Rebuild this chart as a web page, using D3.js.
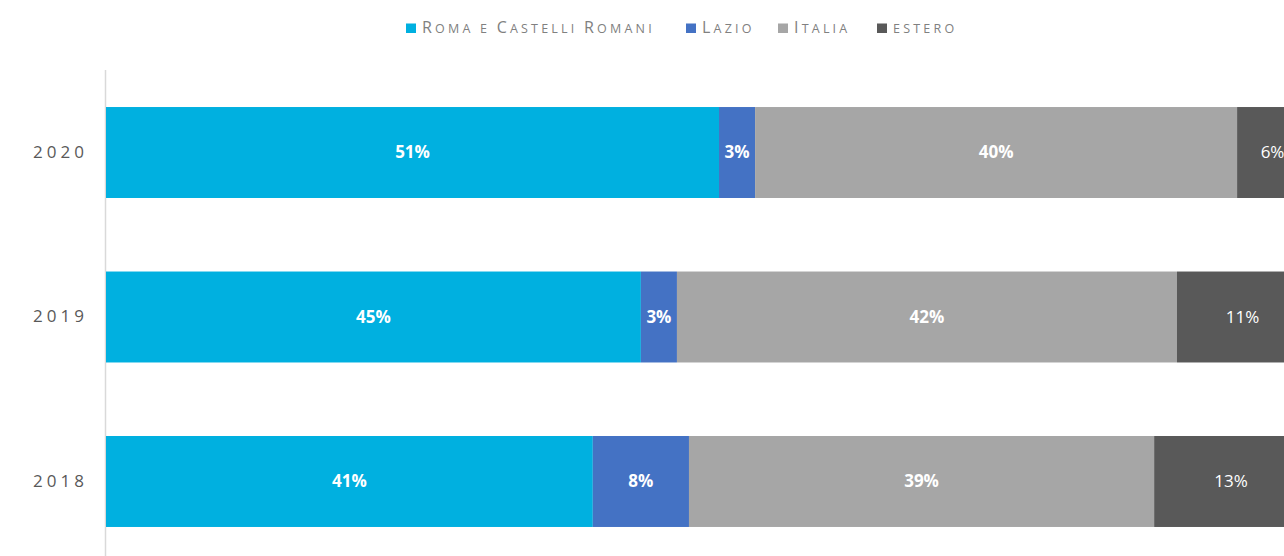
<!DOCTYPE html>
<html>
<head>
<meta charset="utf-8">
<script src="https://cdn.jsdelivr.net/npm/d3@7"></script>
<style>
	html, body { margin: 0; padding: 0; background: #fff; overflow: hidden; }
	text { font-family: "Open Sans", "Noto Sans", sans-serif; }
</style>
</head>
<body>
<div id="chart"></div>
<script>
const years = ["2020", "2019", "2018"];
const series = ["Roma e Castelli Romani", "Lazio", "Italia", "estero"];
const colors = ["#00b0e0", "#4472c4", "#a6a6a6", "#595959"];
const romaValues = [51.0, 44.5, 40.5];
const lazioValues = [3.0, 3.0, 8.0];
const italiaValues = [40.1, 41.6, 38.7];
const esteroValues = [5.9, 10.9, 12.8];

const width = 1284, height = 556;

const svg = d3.select("#chart")
	.append("svg")
	.attr("width", width)
	.attr("height", height);

const x = d3.scaleLinear().domain([0, 100]).range([106, 1308]);
const y = d3.scaleBand().domain(years).range([33.5, 600.5]).paddingInner(0.447).paddingOuter(0.447);

const table = years.map((yr, i) => ({
	year: yr,
	"Roma e Castelli Romani": romaValues[i],
	Lazio: lazioValues[i],
	Italia: italiaValues[i],
	estero: esteroValues[i],
}));

const stacked = d3.stack().keys(series)(table);

// axis line on the left
svg.append("line")
	.attr("x1", 105.5).attr("x2", 105.5)
	.attr("y1", 70).attr("y2", height)
	.attr("stroke", "#d9d9d9")
	.attr("stroke-width", 1.5);

const layers = svg.append("g")
	.selectAll("g")
	.data(stacked)
	.join("g")
	.attr("fill", (d, i) => colors[i]);

layers.selectAll("rect")
	.data((d) => d)
	.join("rect")
	.attr("x", (d) => x(d[0]))
	.attr("y", (d) => y(d.data.year))
	.attr("width", (d) => x(d[1]) - x(d[0]))
	.attr("height", y.bandwidth());

// labels centred on the full segment (the last one runs off the page)
layers.selectAll("text")
	.data((d, i) => d.map((v) => ({ v, i })))
	.join("text")
	.attr("x", (d) => (x(d.v[0]) + x(d.v[1])) / 2)
	.attr("y", (d) => y(d.v.data.year) + y.bandwidth() / 2)
	.attr("dy", "0.35em")
	.attr("text-anchor", "middle")
	.attr("fill", "#fff")
	.attr("font-size", 17)
	.attr("font-weight", (d) => (d.i === 3 ? 400 : 700))
	.text((d) => Math.round(d.v[1] - d.v[0]) + "%");

// year labels
const yAxis = svg.append("g")
	.attr("transform", "translate(88,0)")
	.call(d3.axisLeft(y).tickSize(0).tickPadding(0));
yAxis.select(".domain").remove();
yAxis.selectAll("text")
	.attr("fill", "#595959")
	.attr("font-size", 17)
	.attr("letter-spacing", "4px")
	.style("font-family", "'Open Sans', sans-serif");

// legend
const legendItems = [
	{ name: series[0], x: 406 },
	{ name: series[1], x: 686 },
	{ name: series[2], x: 778 },
	{ name: series[3], x: 877 },
];
const legend = svg.append("g")
	.selectAll("g")
	.data(legendItems)
	.join("g")
	.attr("transform", (d) => `translate(${d.x},0)`);

legend.append("rect")
	.attr("x", 0).attr("y", 23.5)
	.attr("width", 10).attr("height", 9.5)
	.attr("fill", (d, i) => colors[i]);

// small caps drawn by hand: capitals big, the rest upper-cased and smaller
legend.append("text")
	.attr("x", 16)
	.attr("y", 33)
	.attr("fill", "#808080")
	.attr("letter-spacing", "3.2px")
	.selectAll("tspan")
	.data((d) => d.name.split("").map((c) => ({ c, big: c !== c.toLowerCase() })))
	.join("tspan")
	.attr("font-size", (d) => (d.big ? 16 : 12.5))
	.text((d) => d.c.toUpperCase());
</script>
</body>
</html>
